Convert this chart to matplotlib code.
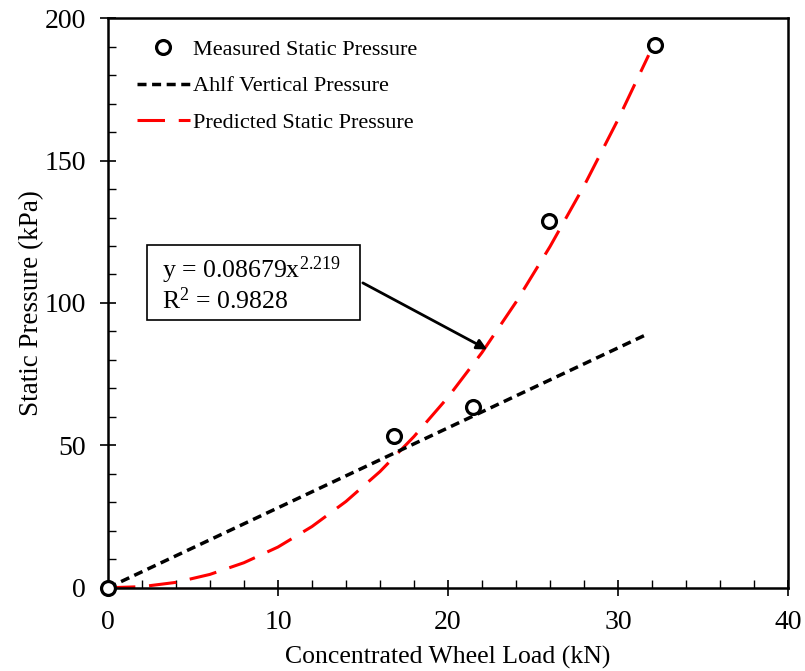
import matplotlib
matplotlib.use("Agg")
import matplotlib.pyplot as plt
from matplotlib.ticker import MultipleLocator
from matplotlib.patches import Rectangle

plt.rcParams['font.family'] = ['Liberation Serif', 'DejaVu Serif']
plt.rcParams['mathtext.fontset'] = 'custom'
plt.rcParams['mathtext.rm'] = 'Liberation Serif'
plt.rcParams['mathtext.it'] = 'Liberation Serif:italic'

# Measured data
meas_x = [0, 16.8, 21.5, 25.95, 32.2]
meas_y = [0, 53.2, 63.3, 128.8, 190.6]

# Ahlf vertical pressure
ahlf_x = [0, 31.7]
ahlf_y = [0, 89.0]

# Predicted static pressure curve
pred_x = [0, 2, 4, 6, 8, 10, 12, 14, 16, 18, 20, 22, 24, 26, 28, 30, 31.8]
pred_y = [0, 0.4, 1.9, 4.7, 8.8, 14.3, 21.5, 30.3, 40.8, 53.1, 66.9, 82.6, 100.3, 119.8, 141.1, 164.4, 187.0]

fig = plt.figure(figsize=(8.05, 6.71), dpi=100)
ax = fig.add_axes([0.134, 0.124, 0.845, 0.849])

ax.plot(pred_x, pred_y, color='#ff0000', lw=2.2, dashes=(9, 4.5), label='Predicted Static Pressure', zorder=2)
ax.plot(ahlf_x, ahlf_y, color='black', lw=2.5, dashes=(2.6, 1.6), label='Ahlf Vertical Pressure', zorder=2)
ax.plot(meas_x, meas_y, 'o', ms=10, mfc='white', mec='black', mew=2.3, label='Measured Static Pressure', zorder=3, clip_on=False)

ax.set_xlim(0, 40)
ax.set_ylim(0, 200)
ax.xaxis.set_major_locator(MultipleLocator(10))
ax.xaxis.set_minor_locator(MultipleLocator(2))
ax.yaxis.set_major_locator(MultipleLocator(50))
ax.yaxis.set_minor_locator(MultipleLocator(10))
ax.tick_params(which='major', direction='inout', length=12, width=1.2, labelsize=20, pad=10)
ax.tick_params(which='minor', direction='in', length=6, width=1.0)
ax.tick_params(axis='x', which='major', pad=10)
for s in ax.spines.values():
    s.set_linewidth(1.8)

ax.set_xlabel('Concentrated Wheel Load (kN)', fontsize=18.5, labelpad=8)
ax.set_ylabel('Static Pressure (kPa)', fontsize=19.5, labelpad=0)

handles, labels = ax.get_legend_handles_labels()
order = [2, 1, 0]
ax.legend([handles[i] for i in order], [labels[i] for i in order],
          loc='upper left', bbox_to_anchor=(0.013, 0.998), frameon=False,
          fontsize=16, handlelength=2.4, handletextpad=0.15, labelspacing=0.72)

# Equation box
ax.add_patch(Rectangle((0.0574, 0.470), 0.3132, 0.1318, transform=ax.transAxes,
                       fc='white', ec='black', lw=1.2, zorder=4))
ax.text(0.0794, 0.5335, 'y = 0.08679x$^{2.219}$\nR$^{2}$ = 0.9828', fontsize=18.5,
        transform=ax.transAxes, va='center', ha='left', linespacing=1.05, zorder=5)
ax.annotate('', xy=(22.45, 83.2), xytext=(14.85, 107.5),
            arrowprops=dict(arrowstyle='-|>', color='black', lw=2, mutation_scale=15))

fig.savefig('out.png', dpi=100)
